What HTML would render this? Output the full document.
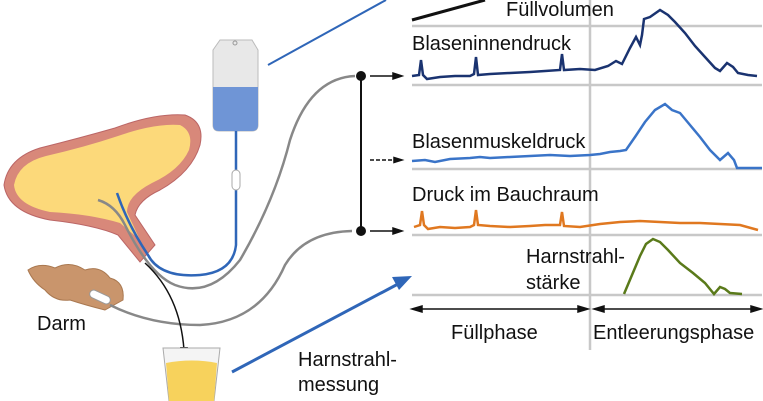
<!DOCTYPE html>
<html><head><meta charset="utf-8"><style>
html,body{margin:0;padding:0;background:#fff}
svg{display:block}
text{font-family:"Liberation Sans",sans-serif;fill:#111}
</style></head><body>
<svg width="763" height="401" viewBox="0 0 763 401" xmlns="http://www.w3.org/2000/svg">
<g stroke="#c8c8c8" stroke-width="2.5">
<line x1="412" y1="26" x2="762" y2="26"/>
<line x1="412" y1="85" x2="762" y2="85"/>
<line x1="412" y1="169" x2="762" y2="169"/>
<line x1="412" y1="235" x2="762" y2="235"/>
<line x1="412" y1="295" x2="762" y2="295"/>
<line x1="590" y1="0" x2="590" y2="350"/>
</g>
<line x1="412" y1="20" x2="485" y2="0" stroke="#111" stroke-width="3"/>
<g font-size="20">
<text x="506" y="16">Füllvolumen</text>
<text x="412" y="50">Blaseninnendruck</text>
<text x="412" y="148">Blasenmuskeldruck</text>
<text x="412" y="201">Druck im Bauchraum</text>
<text x="526" y="263">Harnstrahl-</text>
<text x="526" y="289">stärke</text>
<text x="451" y="339">Füllphase</text>
<text x="593" y="339">Entleerungsphase</text>
<text x="37" y="330">Darm</text>
<text x="298" y="366">Harnstrahl-</text>
<text x="298" y="391">messung</text>
</g>
<polyline fill="none" stroke="#1a3370" stroke-width="2.5" points="412,76 419,75 421,60 423,75 427,79 440,77 455,76 470,76 474,74 476,57 478,75 490,74 510,73 530,72 545,71 560,70 562,54 564,70 580,69 595,70 608,66 616,61 622,64 630,48 636,37 640,45 642,35 644,19 650,17 660,10 668,15 675,22 685,33 695,46 705,57 715,68 720,71 727,63 733,67 738,73 748,75 757,76"/>
<polyline fill="none" stroke="#3a74c8" stroke-width="2.5" points="412,161 425,160 435,162 450,159 470,158 480,157 490,158 510,157 530,156 550,155 570,156 590,155 600,154 610,152 620,151 626,150 635,137 645,122 655,110 665,104 672,110 680,113 690,125 700,137 710,150 720,160 728,153 734,160 737,168 762,168"/>
<polyline fill="none" stroke="#e07820" stroke-width="2.5" points="414,227 420,225 422,211 424,225 428,229 440,227 455,228 470,227 474,225 476,210 478,225 490,226 510,227 530,226 545,225 560,225 562,212 564,226 580,227 600,224 620,222 640,221 660,222 680,223 700,223 720,224 740,225 758,230"/>
<polyline fill="none" stroke="#5a7a1a" stroke-width="2.5" points="624,294 632,275 640,256 646,244 653,239 660,242 668,250 680,263 693,273 705,283 714,294 720,287 725,289 730,293 742,294"/>
<g stroke="#111" stroke-width="1.5" fill="#111">
<line x1="418" y1="309" x2="582" y2="309"/>
<polygon points="412,309 422,306 422,312"/>
<polygon points="588,309 578,306 578,312"/>
<line x1="600" y1="309" x2="756" y2="309"/>
<polygon points="594,309 604,306 604,312"/>
<polygon points="761,309 751,306 751,312"/>
</g>
<line x1="361" y1="76" x2="361" y2="231" stroke="#111" stroke-width="2"/>
<circle cx="361" cy="76" r="5" fill="#111"/>
<circle cx="361" cy="231" r="5" fill="#111"/>
<g stroke="#111" stroke-width="1.5" fill="#111">
<line x1="370" y1="76" x2="395" y2="76"/><polygon points="402,76 393,73 393,79"/>
<line x1="370" y1="231" x2="395" y2="231"/><polygon points="402,231 393,228 393,234"/>
<line x1="370" y1="160" x2="395" y2="160" stroke-dasharray="4,2"/><polygon points="402,160 394,157.5 394,162.5"/>
</g>
<line x1="268" y1="65" x2="386" y2="0" stroke="#2f66b8" stroke-width="2"/>
<line x1="232" y1="372" x2="398" y2="284" stroke="#2f66b8" stroke-width="3"/>
<polygon points="412,276 392,277 399,290" fill="#2f66b8"/>
<path d="M220,40 L252,40 L258,50 L258,125 Q258,131 252,131 L219,131 Q213,131 213,125 L213,50 Z" fill="#e8e8e8" stroke="#bbb"/>
<path d="M213,87 L258,87 L258,125 Q258,131 252,131 L219,131 Q213,131 213,125 Z" fill="#6f95d6"/>
<circle cx="235" cy="43" r="2" fill="none" stroke="#999"/>
<path d="M4,185 Q8,158 40,148 Q80,138 115,128 Q155,113 185,115 Q205,122 200,145 Q192,172 160,190 Q138,200 135,215 L155,245 L140,262 L118,235 Q95,225 50,220 Q8,212 4,185 Z" fill="#d8887a" stroke="#b66" stroke-width="1"/>
<path d="M14,185 Q18,163 46,156 Q85,147 118,136 Q155,123 180,125 Q194,132 189,150 Q180,170 152,183 Q127,196 127,212 L140,240 L120,223 Q90,214 50,212 Q16,205 14,185 Z" fill="#fcd97a"/>
<path d="M28,270 Q40,262 55,268 Q70,260 85,270 Q100,265 110,278 Q125,282 123,300 L105,310 Q85,305 70,300 Q55,302 45,290 Q33,282 28,270 Z" fill="#c9956c" stroke="#a97850"/>
<rect x="89" y="293" width="22" height="8" rx="4" fill="#fff" stroke="#999" transform="rotate(25 100 297)"/>
<path d="M236,131 L236,170 M236,190 L236,245 Q233,272 200,275 Q160,278 148,255 Q128,225 117,193" fill="none" stroke="#2f66b8" stroke-width="2.5"/>
<rect x="232" y="170" width="8" height="20" rx="4" fill="#fff" stroke="#aaa"/>
<path d="M98,200 Q115,205 125,225 Q150,275 175,285 Q210,298 240,260 Q275,200 290,140 Q310,78 355,76" fill="none" stroke="#888" stroke-width="2.5"/>
<path d="M110,305 Q150,325 200,325 Q260,322 285,265 Q305,232 352,231" fill="none" stroke="#888" stroke-width="2.5"/>
<path d="M145,263 Q180,295 184,350" fill="none" stroke="#111" stroke-width="1.5"/>
<polygon points="184,357 180,347 188,347" fill="#111"/>
<path d="M163,348 L220,348 L214,401 L169,401 Z" fill="#f4f4f4" stroke="#aaa"/>
<path d="M166,363 Q192,358 217,363 L214,401 L169,401 Z" fill="#f7d25c"/>
</svg>
</body></html>
